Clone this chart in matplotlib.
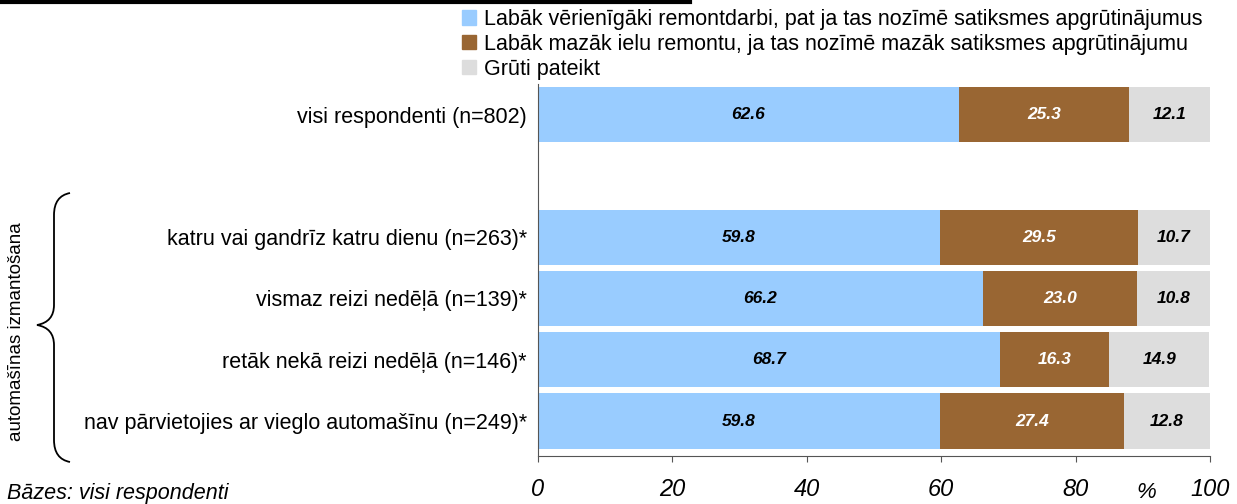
import numpy as np
import matplotlib.pyplot as plt
from matplotlib.path import Path
from matplotlib.patches import PathPatch, Patch

plt.rcParams['font.family'] = ['Liberation Sans', 'DejaVu Sans']

# data
categories = ['visi respondenti (n=802)', '',
              'katru vai gandrīz katru dienu (n=263)*',
              'vismaz reizi nedēļā (n=139)*',
              'retāk nekā reizi nedēļā (n=146)*',
              'nav pārvietojies ar vieglo automašīnu (n=249)*']
series_names = ['Labāk vērienīgāki remontdarbi, pat ja tas nozīmē satiksmes apgrūtinājumus',
                'Labāk mazāk ielu remontu, ja tas nozīmē mazāk satiksmes apgrūtinājumu',
                'Grūti pateikt']
s1 = [62.6, np.nan, 59.8, 66.2, 68.7, 59.8]
s2 = [25.3, np.nan, 29.5, 23.0, 16.3, 27.4]
s3 = [12.1, np.nan, 10.7, 10.8, 14.9, 12.8]
colors = ['#99CCFF', '#996633', '#DDDDDD']
text_colors = ['black', 'white', 'black']

fig = plt.figure(figsize=(12.37, 5.04), dpi=100)
ax = fig.add_axes([538/1237, 1-456/504, (1210-538)/1237, (456-84)/504])

y = np.arange(len(categories))
left = np.zeros(len(categories))
for vals, c, tc, name in zip([s1, s2, s3], colors, text_colors, series_names):
    v = np.array(vals, dtype=float)
    vv = np.nan_to_num(v)
    ax.barh(y, vv, left=left, height=0.9, color=c, label=name)
    for yi, (l, val) in enumerate(zip(left, v)):
        if not np.isnan(val):
            ax.text(l + val/2, yi, f'{val:.1f}', ha='center', va='center',
                    color=tc, fontsize=12.5, fontweight='bold', fontstyle='italic')
    left += vv

ax.set_ylim(len(categories) - 0.43, -0.5)
ax.set_xlim(0, 100)
ax.set_yticks(y)
ax.set_yticklabels(categories, fontsize=15.5)
ax.tick_params(axis='y', length=0, pad=8)
ax.set_xticks([0, 20, 40, 60, 80, 100])
ax.set_xticklabels(['0', '20', '40', '60', '80', '100'], fontsize=17, fontstyle='italic')
ax.tick_params(axis='x', direction='out', length=4, pad=12, color='#555555')
for s in ['top', 'right']:
    ax.spines[s].set_visible(False)
ax.spines['left'].set_color('#555555')
ax.spines['bottom'].set_color('#555555')

# legend
h = [Patch(color=c) for c in colors]
fig.legend(h, series_names, loc='upper left', bbox_to_anchor=(462/1237, 1-9/504),
           frameon=False, fontsize=15.5, handlelength=0.65, handleheight=0.65,
           handletextpad=0.35, labelspacing=0.18, borderpad=0, borderaxespad=0)

# overlay in pixel coords
ov = fig.add_axes([0, 0, 1, 1])
ov.set_xlim(0, 1237)
ov.set_ylim(504, 0)
ov.axis('off')
ov.plot([0, 690], [2, 2], color='black', lw=3)

verts = [(70, 193), (54, 196), (54, 215),
         (54, 305),
         (54, 322), (37, 325),
         (54, 328), (54, 345),
         (54, 440),
         (54, 459), (70, 462)]
codes = [Path.MOVETO, Path.CURVE3, Path.CURVE3,
         Path.LINETO,
         Path.CURVE3, Path.CURVE3,
         Path.CURVE3, Path.CURVE3,
         Path.LINETO,
         Path.CURVE3, Path.CURVE3]
ov.add_patch(PathPatch(Path(verts, codes), fill=False, lw=1.3, color='black'))
ov.text(17, 332, 'automašīnas izmantošana', rotation=90, ha='center', va='center', fontsize=13.5)
ov.text(7, 494, 'Bāzes: visi respondenti', ha='left', va='center', fontsize=15.5, fontstyle='italic')
ov.text(1146, 492, '%', ha='center', va='center', fontsize=16, fontstyle='italic')

fig.savefig('out.png', dpi=100)
